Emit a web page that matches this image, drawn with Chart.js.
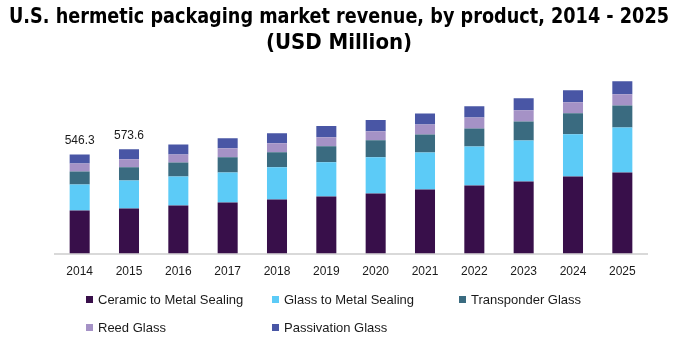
<!DOCTYPE html>
<html>
<head>
<meta charset="utf-8">
<script src="https://cdn.jsdelivr.net/npm/chart.js@4.4.1/dist/chart.umd.min.js"></script>
<style>
  html, body { margin: 0; padding: 0; background: #fff; }
</style>
</head>
<body>
<canvas id="chart" width="678" height="351"></canvas>
<script>
"use strict";

// Data ----------------------------------------------------------------------
const years = ["2014","2015","2016","2017","2018","2019","2020","2021","2022","2023","2024","2025"];
const ceramicToMetal = [237, 248, 265, 281, 298, 315, 331, 353, 375, 397, 425, 447];
const glassToMetal   = [143, 155, 160, 166, 177, 188, 199, 204, 215, 226, 232, 248];
const transponder    = [72, 72, 77, 83, 83, 88, 94, 99, 99, 105, 116, 121];
const reedGlass      = [44, 44, 44, 50, 50, 50, 50, 55, 61, 61, 61, 61];
const passivation    = [50, 55, 55, 55, 55, 61, 61, 61, 61, 66, 66, 72];
const totalLabels    = ["546.3", "573.6", null, null, null, null, null, null, null, null, null, null];

const seriesNames = ["Ceramic to Metal Sealing", "Glass to Metal Sealing", "Transponder Glass", "Reed Glass", "Passivation Glass"];
const seriesColors = ["#380f4a", "#5ccbf7", "#3a6b80", "#a592c6", "#4956a5"];
const titleLines = ["U.S. hermetic packaging market revenue, by product, 2014 - 2025", "(USD Million)"];

const TEXT = "#1a1a1a";
const FONT = "'Liberation Sans', Arial, sans-serif";

// Plugins -------------------------------------------------------------------
// title drawn by hand so it can use the full canvas width (squeezed like Arial Narrow)
const titlePlugin = {
  id: "bigTitle",
  afterDraw(chart) {
    const ctx = chart.ctx;
    ctx.save();
    ctx.font = "bold 22px 'DejaVu Sans Condensed', sans-serif";
    ctx.fillStyle = "#000";
    ctx.textAlign = "center";
    ctx.textBaseline = "middle";
    ctx.fillText(titleLines[0], chart.width / 2, 17, 660);
    ctx.fillText(titleLines[1], chart.width / 2, 43, 660);
    ctx.restore();
  },
};

const totalsPlugin = {
  id: "totals",
  afterDatasetsDraw(chart) {
    const ctx = chart.ctx;
    const meta = chart.getDatasetMeta(chart.data.datasets.length - 1);
    ctx.save();
    ctx.font = "12px " + FONT;
    ctx.fillStyle = TEXT;
    ctx.textAlign = "center";
    ctx.textBaseline = "middle";
    totalLabels.forEach((t, i) => {
      if (!t) return;
      const el = meta.data[i];
      ctx.fillText(t, el.x, el.y - 14);
    });
    ctx.restore();
  },
};

// grid legend: 3 columns, left aligned like the original
const gridLegend = {
  id: "gridLegend",
  afterDraw(chart) {
    const ctx = chart.ctx;
    const cols = [89, 275, 462];
    const rows = [300, 328];
    ctx.save();
    ctx.font = "13px " + FONT;
    ctx.textBaseline = "middle";
    chart.data.datasets.forEach((ds, i) => {
      const x = cols[i % 3];
      const y = rows[Math.floor(i / 3)];
      ctx.fillStyle = ds.backgroundColor;
      ctx.fillRect(x - 3, y - 4, 7, 7);
      ctx.fillStyle = TEXT;
      ctx.fillText(ds.label, x + 9, y);
    });
    ctx.restore();
  },
};

// Chart ---------------------------------------------------------------------
const seriesData = [ceramicToMetal, glassToMetal, transponder, reedGlass, passivation];

new Chart(document.getElementById("chart"), {
  type: "bar",
  data: {
    labels: years,
    datasets: seriesData.map((d, i) => ({
      label: seriesNames[i],
      data: d,
      backgroundColor: seriesColors[i],
      categoryPercentage: 1,
      barPercentage: 0.406,
    })),
  },
  options: {
    responsive: false,
    animation: false,
    layout: { padding: { top: 72, left: 55, right: 31, bottom: 69 } },
    scales: {
      x: {
        stacked: true,
        grid: { display: false },
        border: { display: true, color: "#d9d9d9", width: 2 },
        ticks: { color: TEXT, font: { family: FONT, size: 12 }, padding: 3 },
      },
      y: {
        stacked: true,
        display: false,
        min: 0,
        max: 1000,
      },
    },
    plugins: {
      legend: { display: false },
      tooltip: { enabled: false },
      title: { display: false },
    },
  },
  plugins: [titlePlugin, totalsPlugin, gridLegend],
});
</script>
</body>
</html>
